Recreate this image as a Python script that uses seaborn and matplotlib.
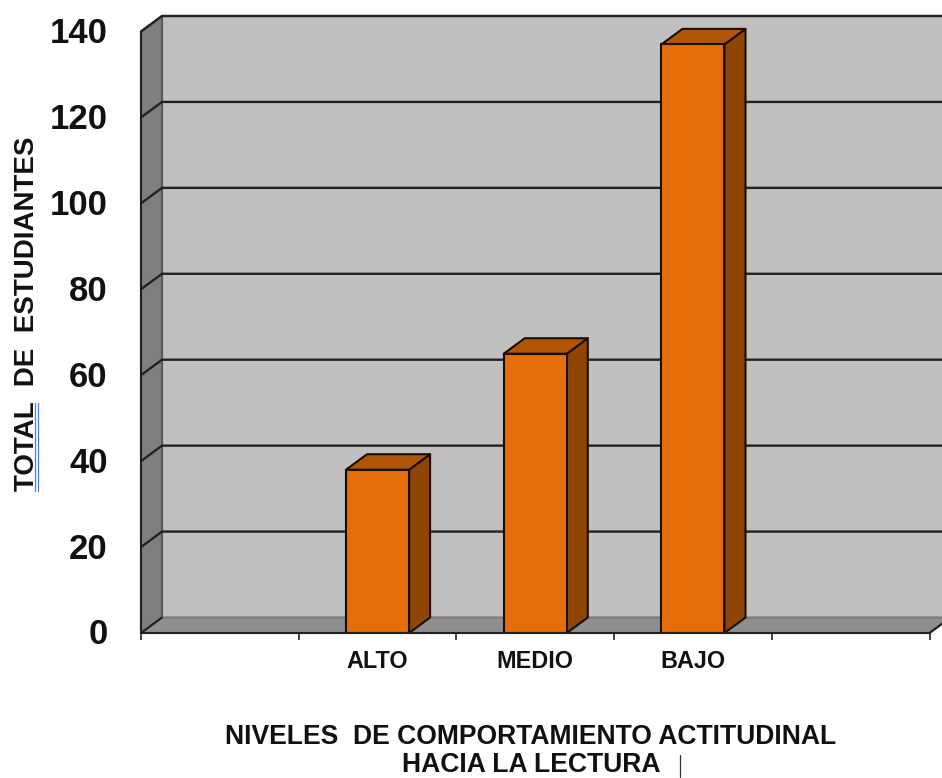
import numpy as np
import pandas as pd
import matplotlib
matplotlib.use("Agg")
import matplotlib.pyplot as plt
from matplotlib.lines import Line2D
from matplotlib.patches import Polygon
from matplotlib.transforms import ScaledTranslation
import seaborn as sns

categories = ["", "ALTO", "MEDIO", "BAJO", " "]
totals = [np.nan, 38, 65, 137, np.nan]
y_ticks = [0, 20, 40, 60, 80, 100, 120, 140]
y_label = "TOTAL  DE  ESTUDIANTES"
x_label = "NIVELES  DE COMPORTAMIENTO ACTITUDINAL\nHACIA LA LECTURA"

W, H = 942, 778
sns.set_theme(style="white")
plt.rcParams["font.family"] = ["Liberation Sans", "DejaVu Sans"]
plt.rcParams["font.weight"] = "bold"

fig = plt.figure(figsize=(W / 100, H / 100), dpi=100)
L, R, T, B = 141, 929.5, 31.5, 633
ax = fig.add_axes([L / W, 1 - B / H, (R - L) / W, (B - T) / H])
df = pd.DataFrame({"nivel": categories, "total": totals})
sns.barplot(data=df, x="nivel", y="total", order=categories, color="#E66E0A",
            saturation=1, width=0.4, edgecolor="#1a0d00", linewidth=1.5, ax=ax, zorder=5)
ax.set_xlim(-0.5, 4.5)
ax.set_ylim(0, y_ticks[-1])

DX = 21 / ((R - L) / 5)
DY = 15.5 / ((B - T) / y_ticks[-1])
x0, x1 = -0.5, 4.5
y1 = y_ticks[-1]
EDGE = "#222222"

def poly(pts, fc, z, lw=1.5, ec=EDGE):
    ax.add_patch(Polygon(pts, closed=True, facecolor=fc, edgecolor=ec, linewidth=lw,
                         clip_on=False, zorder=z, joinstyle="round"))

# walls and floor
poly([(x0 + DX, DY), (x1 + DX, DY), (x1 + DX, y1 + DY), (x0 + DX, y1 + DY)], "#C0C0C0", 1)
poly([(x0, 0), (x0 + DX, DY), (x0 + DX, y1 + DY), (x0, y1)], "#7F7F7F", 2, ec="#5a5a5a")
poly([(x0, 0), (x1, 0), (x1 + DX, DY), (x0 + DX, DY)], "#8E8E8E", 2, ec="#7a7a7a")

# gridlines on back and side wall, plus the top and floor edges
for v in y_ticks[1:]:
    ax.plot([x0, x0 + DX, x1 + DX], [v, v + DY, v + DY], color=EDGE, lw=1.7,
            clip_on=False, zorder=3)
ax.plot([x0, x0 + DX], [0, DY], color=EDGE, lw=1.5, clip_on=False, zorder=3)
ax.plot([x1, x1 + DX], [0, DY], color=EDGE, lw=1.5, clip_on=False, zorder=3)

# depth faces of the bars
for bar in ax.patches:
    if not hasattr(bar, "get_width") or not np.isfinite(bar.get_height()) or bar.get_height() == 0:
        continue
    bx, bw, bh = bar.get_x(), bar.get_width(), bar.get_height()
    poly([(bx + bw, 0), (bx + bw + DX, DY), (bx + bw + DX, bh + DY), (bx + bw, bh)], "#8F4504", 4,
         ec="#1a0d00")
    poly([(bx, bh), (bx + bw, bh), (bx + bw + DX, bh + DY), (bx + DX, bh + DY)], "#B05505", 4,
         ec="#1a0d00")

# axis styling
for side in ["top", "right"]:
    ax.spines[side].set_visible(False)
for side in ["left", "bottom"]:
    ax.spines[side].set_color(EDGE)
    ax.spines[side].set_linewidth(1.5)
    ax.spines[side].set_zorder(6)
ax.set_facecolor("none")
ax.set_yticks(y_ticks)
ax.tick_params(axis="y", length=6, width=1.5, color=EDGE, labelsize=25, pad=18, labelcolor="#111111")
shift = ScaledTranslation(0, 1.5 / 100, fig.dpi_scale_trans)
for lab in ax.get_yticklabels():
    lab.set_transform(lab.get_transform() + shift)
ax.set_xticks(range(len(categories)), categories)
ax.set_xticks(np.arange(x0, x1 + 1), minor=True)
ax.tick_params(axis="x", which="major", length=0, pad=12, labelsize=16.8, labelcolor="#111111")
ax.tick_params(axis="x", which="minor", bottom=True, length=5, width=1.2, color=EDGE)
ax.set_xlabel("")
ax.set_ylabel("")

fig.text(531 / W, 1 - 751.5 / H, x_label, ha="center", va="center", fontsize=19.1,
         linespacing=1.1, color="#111111")
fig.text(27 / W, 1 - 314 / H, y_label, rotation=90, ha="center", va="center", fontsize=20,
         color="#111111")

# double spelling underline and text cursor
for xp in (35, 38):
    fig.add_artist(Line2D([xp / W, xp / W], [1 - 403 / H, 1 - 491 / H], color="#4A7FE0", lw=0.9))
fig.add_artist(Line2D([680 / W, 680 / W], [1 - 755 / H, 1 - 777 / H], color="#333333", lw=0.9))

fig.savefig("out.png", dpi=100, facecolor="white")
